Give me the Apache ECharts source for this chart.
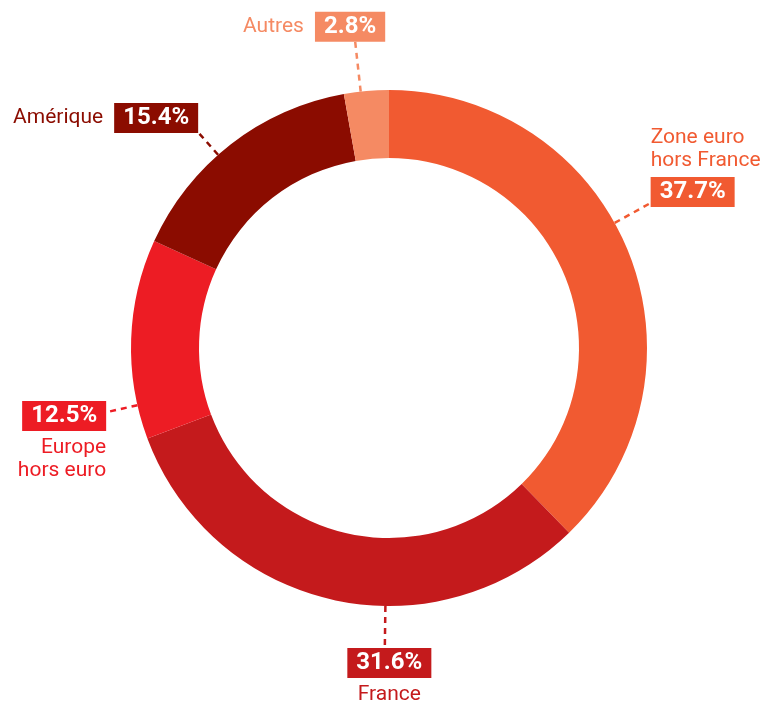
<!DOCTYPE html>
<html>
<head>
<meta charset="utf-8">
<style>
	html, body { margin: 0; padding: 0; background: #fff; }
	#chart { width: 768px; height: 704px; }
</style>
<script src="https://cdn.jsdelivr.net/npm/echarts@6/dist/echarts.min.js"></script>
</head>
<body>
<div id="chart"></div>
<script>
// données
const names = ['Zone euro\nhors France', 'France', 'Europe\nhors euro', 'Amérique', 'Autres'];
const values = [37.7, 31.6, 12.5, 15.4, 2.8];
const colors = ['#F15A31', '#C41A1C', '#ED1C24', '#8B0C00', '#F58A63'];

// géométrie de l'anneau
const CX = 389, CY = 348, R_IN = 190, R_OUT = 258;

// traits pointillés : angle (degrés depuis le haut, sens horaire) et longueur
const leader = [
	{ angle: 61, len: 40, align: 'left', vAlign: 'bottom', dx: 1, dy: 8.5 },
	{ angle: 180.8, len: 40, align: 'center', vAlign: 'top', dx: 4.5, dy: -3 },
	{ angle: 257.2, len: 30, align: 'right', vAlign: 'top', dx: -2, dy: -15.8 },
	{ angle: 318.5, len: 30, align: 'right', vAlign: 'bottom', dx: 0, dy: 5.7 },
	{ angle: 353.7, len: 50, align: 'right', vAlign: 'bottom', dx: 30, dy: 5 }
];

function pt(angle, r) {
	const a = angle * Math.PI / 180;
	return [CX + r * Math.sin(a), CY - r * Math.cos(a)];
}

// texte de chaque étiquette
function labelText(i) {
	const pct = values[i].toFixed(1) + '%';
	const lines = names[i].split('\n');
	const al = leader[i].align;
	if (i === 0) {
		return lines.map(l => '{nL|' + l + '}').join('\n') + '\n{bL|' + pct + '}';
	}
	if (i === 1 || i === 2) {
		const k = al === 'center' ? 'C' : 'R';
		return '{b' + k + '|' + pct + '}\n' + lines.map(l => '{n' + k + '|' + l + '}').join('\n');
	}
	return '{nS|' + lines[0] + '}{bR|' + pct + '}';
}

function richFor(color) {
	const name = { color: color, fontSize: 21, lineHeight: 23, fontFamily: 'Roboto' };
	const box = {
		color: '#fff', backgroundColor: color, fontSize: 24, fontWeight: 'bold',
		height: 30, lineHeight: 40, padding: [0, 9, 0, 9], fontFamily: 'Roboto'
	};
	return {
		nL: Object.assign({}, name, { align: 'left' }),
		nR: Object.assign({}, name, { align: 'right' }),
		nC: Object.assign({}, name, { align: 'center' }),
		nS: Object.assign({}, name, { padding: [0, 11, 0, 0] }),
		bL: Object.assign({}, box, { align: 'left' }),
		bR: Object.assign({}, box, { align: 'right' }),
		bC: Object.assign({}, box, { align: 'center' })
	};
}

const chart = echarts.init(document.getElementById('chart'));

const option = {
	animation: false,
	series: [
		{
			type: 'pie',
			center: [CX, CY],
			radius: [R_IN, R_OUT],
			startAngle: 90,
			clockwise: true,
			avoidLabelOverlap: false,
			silent: true,
			itemStyle: { borderWidth: 0 },
			label: {
				show: true,
				position: 'outside',
				fontFamily: 'Roboto'
			},
			labelLine: {
				show: true,
				length: 10,
				length2: 10,
				lineStyle: { width: 2.5, type: [6, 5] }
			},
			data: values.map((v, i) => ({
				value: v,
				name: names[i],
				itemStyle: { color: colors[i] },
				label: { formatter: labelText(i), rich: richFor(colors[i]) },
				labelLine: { lineStyle: { color: colors[i], width: 2.5, type: [6, 5] } }
			})),
			labelLayout: function (params) {
				const L = leader[params.dataIndex];
				const p0 = pt(L.angle, R_OUT);
				const p1 = pt(L.angle, R_OUT + L.len);
				return {
					x: p1[0] + L.dx,
					y: p1[1] + L.dy,
					align: L.align,
					verticalAlign: L.vAlign,
					labelLinePoints: [p0, p1, p1]
				};
			}
		}
	]
};

chart.setOption(option);
</script>
</body>
</html>
